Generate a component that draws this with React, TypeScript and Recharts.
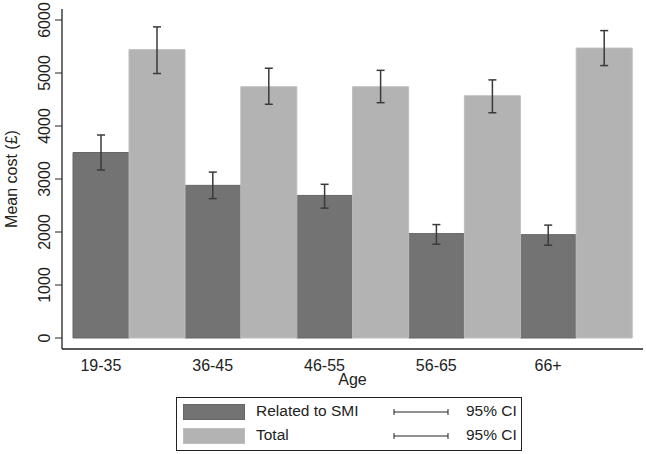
import { BarChart, Bar, XAxis, YAxis, ErrorBar, Label } from 'recharts';

const ages = ['19-35', '36-45', '46-55', '56-65', '66+'];

// Related to SMI: mean cost and 95% CI bounds
const smiMean = [3500, 2880, 2690, 1970, 1950];
const smiLow = [3170, 2630, 2450, 1770, 1750];
const smiHigh = [3830, 3130, 2900, 2140, 2130];

// Total: mean cost and 95% CI bounds
const totalMean = [5440, 4740, 4740, 4570, 5470];
const totalLow = [4990, 4410, 4440, 4250, 5140];
const totalHigh = [5870, 5090, 5050, 4870, 5800];

const yTicks = [0, 1000, 2000, 3000, 4000, 5000, 6000];

const series = [
  { key: 'smi', name: 'Related to SMI', fill: '#737373', stroke: '#666666' },
  { key: 'total', name: 'Total', fill: '#b3b3b3', stroke: '#bdbdbd' },
];

const data = ages.map((age, i) => ({
  age,
  smi: smiMean[i],
  smiErr: [smiMean[i] - smiLow[i], smiHigh[i] - smiMean[i]],
  total: totalMean[i],
  totalErr: [totalMean[i] - totalLow[i], totalHigh[i] - totalMean[i]],
}));

const FONT = '"Liberation Sans", Arial, sans-serif';
const INK = '#222222';

function AgeTick(props: any) {
  const { x, y, payload } = props;
  // labels sit under the first bar of each group
  return (
    <text x={x - 28} y={y + 22} textAnchor="middle" fontSize={16} fill={INK} fontFamily={FONT}>
      {payload.value}
    </text>
  );
}

function CostTick(props: any) {
  const { x, y, payload } = props;
  const tx = x - 3;
  return (
    <text
      x={tx}
      y={y}
      transform={`rotate(-90, ${tx}, ${y})`}
      textAnchor="middle"
      fontSize={16}
      fill={INK}
      fontFamily={FONT}
    >
      {payload.value}
    </text>
  );
}

function YTitle(props: any) {
  const vb = props.viewBox || {};
  const cx = 11;
  const cy = (vb.y ?? 9) + (vb.height ?? 340) / 2;
  return (
    <text
      x={cx}
      y={cy}
      transform={`rotate(-90, ${cx}, ${cy})`}
      textAnchor="middle"
      dominantBaseline="central"
      fontSize={16}
      fill={INK}
      fontFamily={FONT}
    >
      Mean cost (£)
    </text>
  );
}

function CiKey() {
  return (
    <svg width={56} height={10} style={{ display: 'block' }}>
      <line x1={1} y1={5} x2={55} y2={5} stroke={INK} strokeWidth={1} />
      <line x1={1} y1={2} x2={1} y2={8} stroke={INK} strokeWidth={1} />
      <line x1={55} y1={2} x2={55} y2={8} stroke={INK} strokeWidth={1} />
    </svg>
  );
}

function LegendBox() {
  return (
    <div
      style={{
        position: 'absolute',
        left: 176,
        top: 397,
        width: 344,
        height: 52,
        border: `1px solid ${INK}`,
        fontFamily: FONT,
        fontSize: 15.5,
        color: INK,
      }}
    >
      {series.map((s, i) => (
        <div
          key={s.key}
          style={{ position: 'absolute', left: 0, top: 6 + i * 23.5, height: 17, width: '100%' }}
        >
          <div
            style={{
              position: 'absolute',
              left: 6,
              top: 0,
              width: 60,
              height: 14,
              background: s.fill,
              border: `1px solid ${s.stroke}`,
            }}
          />
          <div style={{ position: 'absolute', left: 79, top: -2, lineHeight: '18px' }}>{s.name}</div>
          <div style={{ position: 'absolute', left: 216, top: 3 }}>
            <CiKey />
          </div>
          <div style={{ position: 'absolute', left: 289, top: -2, lineHeight: '18px' }}>95% CI</div>
        </div>
      ))}
    </div>
  );
}

export default function App() {
  return (
    <div style={{ position: 'absolute', left: 0, top: 0, width: 646, height: 454, background: '#fff' }}>
      <BarChart
        width={646}
        height={454}
        data={data}
        margin={{ top: 9, right: 3, bottom: 0, left: 0 }}
        barCategoryGap={0}
        barGap={0}
      >
        <XAxis
          dataKey="age"
          height={105}
          padding={{ left: 11, right: 11 }}
          tickLine={false}
          tickSize={0}
          tickMargin={0}
          tick={<AgeTick />}
          axisLine={{ stroke: INK, strokeWidth: 1.3 }}
          interval={0}
        >
          <Label
            value="Age"
            position="insideTop"
            offset={25}
            fontSize={16}
            fill={INK}
            fontFamily={FONT}
          />
        </XAxis>
        <YAxis
          width={62}
          domain={[0, 6000]}
          ticks={yTicks}
          interval={0}
          padding={{ top: 11, bottom: 11 }}
          tickSize={7}
          tickMargin={2}
          tickLine={{ stroke: INK }}
          axisLine={{ stroke: INK, strokeWidth: 1.3 }}
          tick={<CostTick />}
        >
          <Label content={<YTitle />} />
        </YAxis>
        {series.map((s) => (
          <Bar
            key={s.key}
            dataKey={s.key}
            name={s.name}
            fill={s.fill}
            stroke={s.stroke}
            strokeWidth={1}
            isAnimationActive={false}
          >
            <ErrorBar
              dataKey={`${s.key}Err`}
              width={4}
              stroke="#3a3a3a"
              strokeWidth={1.5}
              isAnimationActive={false}
            />
          </Bar>
        ))}
      </BarChart>
      <LegendBox />
    </div>
  );
}
